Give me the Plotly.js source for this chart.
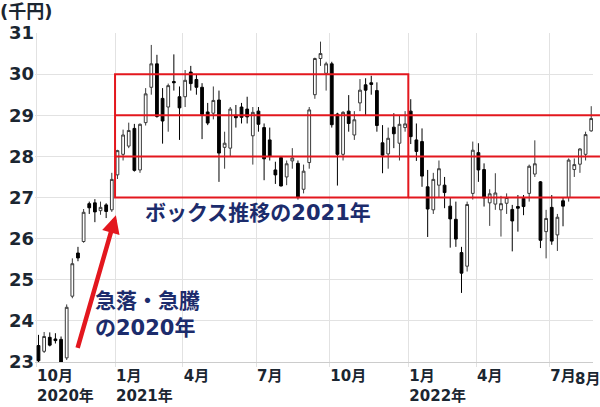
<!DOCTYPE html>
<html>
<head>
<meta charset="utf-8">
<script src="https://cdn.plot.ly/plotly-3.0.1.min.js"></script>
<style>html,body{margin:0;padding:0;background:#fff;}#chart{width:600px;height:407px;}</style>
</head>
<body>
<div id="chart"></div>
<script>
// Weekly candles (thousand yen), dated by week-end Friday
const weeks = [
 '2020-10-02','2020-10-09','2020-10-16','2020-10-23','2020-10-30','2020-11-06','2020-11-13','2020-11-20','2020-11-27',
 '2020-12-04','2020-12-11','2020-12-18','2020-12-25','2021-01-01',
 '2021-01-08','2021-01-15','2021-01-22','2021-01-29','2021-02-05','2021-02-12','2021-02-19','2021-02-26',
 '2021-03-05','2021-03-12','2021-03-19','2021-03-26','2021-04-02','2021-04-09','2021-04-16','2021-04-23','2021-04-30',
 '2021-05-07','2021-05-14','2021-05-21','2021-05-28','2021-06-04','2021-06-11','2021-06-18','2021-06-25',
 '2021-07-02','2021-07-09','2021-07-16','2021-07-23','2021-07-30','2021-08-06','2021-08-13','2021-08-20','2021-08-27',
 '2021-09-03','2021-09-10','2021-09-17','2021-09-24','2021-10-01','2021-10-08','2021-10-15','2021-10-22','2021-10-29',
 '2021-11-05','2021-11-12','2021-11-19','2021-11-26','2021-12-03','2021-12-10','2021-12-17','2021-12-24','2021-12-31',
 '2022-01-07','2022-01-14','2022-01-21','2022-01-28','2022-02-04','2022-02-11','2022-02-18','2022-02-25',
 '2022-03-04','2022-03-11','2022-03-18','2022-03-25','2022-04-01','2022-04-08','2022-04-15','2022-04-22','2022-04-29',
 '2022-05-06','2022-05-13','2022-05-20','2022-05-27','2022-06-03','2022-06-10','2022-06-17','2022-06-24',
 '2022-07-01','2022-07-08','2022-07-15','2022-07-22','2022-07-29','2022-08-05','2022-08-12','2022-08-19'
];
const openV = [
 23.40,23.26,23.60,23.56,23.55,23.10,24.60,25.65,25.93,26.85,26.87,26.68,26.82,26.70,
 27.55,28.05,28.25,28.68,27.67,28.82,29.68,30.25,29.41,29.20,29.82,29.45,29.45,30.05,29.87,29.68,29.08,
 29.05,29.37,28.22,28.20,29.00,29.20,29.15,28.50,29.10,28.70,28.40,27.67,27.97,27.50,27.89,27.83,27.20,
 27.85,29.50,30.38,30.02,30.25,29.03,28.05,29.10,28.52,29.30,29.74,29.79,29.60,28.33,28.06,28.71,28.32,28.70,
 29.10,28.40,28.36,27.26,26.70,27.30,27.30,26.79,26.47,25.66,25.33,27.10,28.09,27.68,26.87,26.84,26.70,
 26.86,26.71,26.78,26.98,27.10,27.57,27.38,26.17,26.76,26.09,26.92,27.00,27.68,27.81,28.05,28.62
];
const highV = [
 23.66,23.73,23.72,23.70,23.62,24.40,25.52,25.80,26.72,26.90,26.96,26.90,26.86,27.60,
 28.16,28.65,28.82,28.79,28.80,29.66,30.71,30.47,29.66,29.77,30.48,29.70,30.10,30.20,30.00,29.78,29.30,
 29.70,29.60,28.60,29.20,29.25,29.30,29.45,29.20,29.20,28.80,28.70,27.87,28.00,27.90,28.20,27.90,27.80,
 29.20,30.40,30.79,30.30,30.30,29.06,29.10,29.49,29.10,29.88,29.90,29.96,29.80,28.76,28.70,29.05,29.00,29.10,
 29.39,28.80,28.68,27.67,27.60,27.90,27.50,27.00,26.90,25.80,26.90,28.36,28.32,27.83,27.20,27.59,27.04,
 27.10,26.82,27.06,27.06,27.80,28.39,27.40,26.70,27.06,26.60,27.00,27.95,27.95,28.20,28.60,29.22
];
const lowV = [
 23.00,23.22,23.38,23.45,22.95,23.05,24.55,25.45,25.90,26.60,26.40,26.58,26.50,26.65,
 27.45,27.90,28.20,27.63,27.60,28.75,29.50,28.94,28.31,28.60,29.60,28.40,29.20,29.60,29.50,28.42,28.76,
 28.90,27.38,27.70,28.00,28.70,28.80,28.80,27.80,28.60,27.42,27.90,27.33,27.27,27.30,27.70,26.95,27.10,
 27.70,29.40,30.20,29.60,28.70,27.29,27.90,28.60,28.40,29.10,29.00,29.50,28.60,27.59,27.70,28.20,27.90,28.60,
 28.30,27.89,27.26,26.04,26.60,27.00,26.74,25.78,25.80,24.68,25.20,26.95,27.38,26.78,26.31,26.70,26.05,
 26.60,25.69,26.17,26.57,26.90,27.50,25.77,25.52,25.85,25.70,26.30,26.90,27.50,27.60,27.90,28.60
];
const closeV = [
 23.03,23.62,23.41,23.52,22.98,24.33,25.39,25.53,26.64,26.75,26.65,26.76,26.66,27.44,
 28.14,28.52,28.63,27.66,28.78,29.52,30.25,28.97,28.86,29.72,29.79,29.18,29.85,29.77,29.68,29.02,28.81,
 29.36,28.08,28.32,29.15,28.94,28.95,28.96,29.07,28.78,27.94,28.00,27.55,27.28,27.82,27.96,27.01,27.64,
 29.13,30.38,30.50,30.25,28.77,28.05,29.07,28.80,28.89,29.61,29.61,29.75,28.75,28.03,28.44,28.55,28.78,28.79,
 28.48,28.12,27.52,26.72,27.44,27.70,27.12,26.48,25.99,25.16,26.83,28.15,27.67,26.99,27.09,27.11,26.85,
 27.00,26.43,26.74,26.78,27.76,27.82,25.96,26.49,25.94,26.52,26.79,27.91,27.80,28.18,28.53,28.92
];
// Axis ticks
const yTicks = [23,24,25,26,27,28,29,30,31];
const xTickVals = ['2020-09-29','2021-01-05','2021-03-30','2021-06-29','2021-09-28','2022-01-04','2022-03-29','2022-06-28'];
const xTickText = ['10月<br>2020年','1月<br>2021年','4月','7月','10月','1月<br>2022年','4月','7月'];
// Box (range) levels, in thousand yen
const boxLow = 27, boxMid = 28, boxMid2 = 29, boxHigh = 30;
const boxStart = '2021-01-05', boxEnd = '2022-01-04';

const FONT = 'DejaVu Sans, "Noto Sans CJK JP", sans-serif';
const ANNFONT = 'DejaVu Sans, "Noto Sans CJK JP", sans-serif';
const NAVY = '#1c2c6c';
const RED = '#e3171e';
const DARK = '#1b2631';

const trace = {
  type: 'candlestick',
  x: weeks, open: openV, high: highV, low: lowV, close: closeV,
  increasing: {line: {color: '#3a3a3a', width: 1}, fillcolor: '#ffffff'},
  decreasing: {line: {color: '#000000', width: 1}, fillcolor: '#000000'},
  whiskerwidth: 0,
  hoverinfo: 'skip'
};

const layout = {
  width: 600, height: 407,
  margin: {l: 35, r: 7, t: 33, b: 45},
  paper_bgcolor: '#ffffff', plot_bgcolor: '#ffffff',
  showlegend: false,
  xaxis: {
    type: 'date',
    range: ['2020-09-27 16:00', '2022-08-21 05:00'],
    rangeslider: {visible: false},
    tickmode: 'array', tickvals: xTickVals, ticktext: xTickText,
    showgrid: true, gridcolor: '#e2e2e2', gridwidth: 1,
    showline: true, linecolor: '#cccccc', linewidth: 1,
    ticks: 'outside', ticklen: 4, tickcolor: '#e2e2e2',
    ticklabelposition: 'outside right',
    tickfont: {family: FONT, size: 15, color: DARK, weight: 'bold'},
    zeroline: false, fixedrange: true
  },
  yaxis: {
    range: [23, 31],
    tickmode: 'array', tickvals: yTicks, ticktext: yTicks.map(String),
    showgrid: true, gridcolor: '#e2e2e2', gridwidth: 1,
    zeroline: false, showline: false, ticks: '',
    tickfont: {family: FONT, size: 18, color: DARK, weight: 'bold'},
    fixedrange: true
  },
  shapes: [
    {type: 'rect', xref: 'x', yref: 'y', x0: boxStart, x1: boxEnd, y0: boxLow, y1: boxHigh,
     line: {color: RED, width: 2}, fillcolor: 'rgba(0,0,0,0)'},
    {type: 'line', xref: 'paper', yref: 'y', x0: 0.1434, x1: 1.0125, y0: boxMid2, y1: boxMid2,
     line: {color: RED, width: 2}},
    {type: 'line', xref: 'paper', yref: 'y', x0: 0.1434, x1: 1.0125, y0: boxMid, y1: boxMid,
     line: {color: RED, width: 2}},
    {type: 'line', xref: 'paper', yref: 'y', x0: 0.6694, x1: 1.0125, y0: boxLow, y1: boxLow,
     line: {color: RED, width: 2}}
  ],
  annotations: [
    {text: '(千円)', xref: 'paper', yref: 'paper', x: -0.0645, y: 1.1003, xanchor: 'left', yanchor: 'top',
     showarrow: false, borderpad: 0, font: {family: FONT, size: 18, color: DARK, weight: 'bold'}},
    {text: 'ボックス推移の2021年', xref: 'paper', yref: 'paper', x: 0.1935, y: 0.4529,
     xanchor: 'left', yanchor: 'middle', showarrow: false,
     font: {family: ANNFONT, size: 21, color: NAVY, weight: 'bold'}},
    {text: '急落・急騰<br>の2020年', xref: 'paper', yref: 'paper', x: 0.1039, y: 0.1429,
     xanchor: 'left', yanchor: 'middle', align: 'left', showarrow: false,
     font: {family: ANNFONT, size: 21, color: NAVY, weight: 'bold'}},
    {text: ' ', x: '2021-01-06', y: 26.57, xref: 'x', yref: 'y',
     ax: '2020-11-16', ay: 23.1, axref: 'x', ayref: 'y',
     showarrow: true, arrowhead: 2, arrowsize: 0.8, arrowwidth: 4.5, arrowcolor: RED, standoff: 0},
    {text: '8月', xref: 'paper', yref: 'paper', x: 0.9642, y: -0.0517, xanchor: 'left', yanchor: 'middle',
     showarrow: false, font: {family: FONT, size: 15, color: DARK, weight: 'bold'}}
  ]
};

Plotly.newPlot('chart', [trace], layout, {displayModeBar: false, staticPlot: true});
</script>
</body>
</html>
